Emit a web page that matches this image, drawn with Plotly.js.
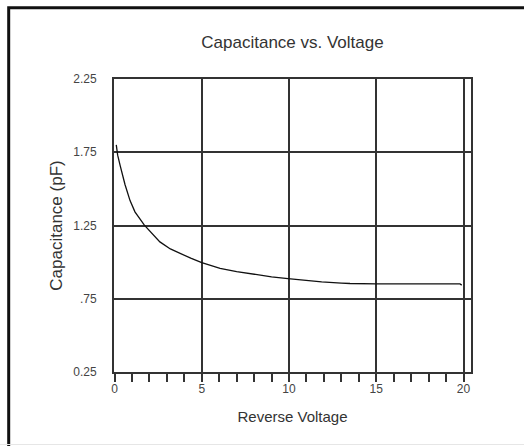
<!DOCTYPE html>
<html>
<head>
<meta charset="utf-8">
<script src="https://cdn.plot.ly/plotly-3.0.1.min.js"></script>
<style>
html,body{margin:0;padding:0;background:#fff;}
#chart{width:524px;height:446px;}
</style>
</head>
<body>
<div id="chart"></div>
<script>
// Data
var reverseVoltage = [0.1, 0.18, 0.32, 0.6, 0.89, 1.17, 1.71, 2.2, 2.6, 3.2, 3.75, 4.4, 5.0, 6.05, 7.0, 7.77, 9.0, 9.94, 11.0, 11.87, 13.0, 13.5, 15.0, 17.0, 19.0, 19.8, 19.9];
var capacitance   = [1.80, 1.73, 1.66, 1.53, 1.42, 1.343, 1.252, 1.185, 1.138, 1.09, 1.059, 1.025, 0.997, 0.957, 0.935, 0.92, 0.90, 0.888, 0.875, 0.865, 0.857, 0.854, 0.852, 0.851, 0.851, 0.851, 0.843];

var xTickVals = [0, 5, 10, 15, 20];
var xTickText = ["0", "5", "10", "15", "20"];
var yTickVals = [0.25, 0.75, 1.25, 1.75, 2.25];
var yTickText = ["0.25", ".75", "1.25", "1.75", "2.25"];

var chartTitle = "Capacitance vs. Voltage";
var xTitle = "Reverse Voltage";
var yTitle = "Capacitance (pF)";

var FONT = "'Liberation Sans', Arial, Helvetica, sans-serif";

var trace = {
  x: reverseVoltage,
  y: capacitance,
  type: "scatter",
  mode: "lines",
  line: {color: "#111", width: 1.3},
  hoverinfo: "skip"
};

var layout = {
  width: 524,
  height: 446,
  paper_bgcolor: "#fff",
  plot_bgcolor: "#fff",
  showlegend: false,
  margin: {l: 114, r: 53, t: 79, b: 74, pad: 0},
  font: {family: FONT, color: "#333"},
  title: {
    text: chartTitle,
    font: {family: FONT, size: 17, color: "#333"},
    x: 0.5, xref: "paper",
    y: 1 - 42/446, yref: "container", yanchor: "middle"
  },
  xaxis: {
    range: [-0.03, 20.43],
    tickvals: xTickVals,
    ticktext: xTickText,
    ticks: "outside",
    ticklen: 5,
    tickcolor: "rgba(0,0,0,0)",
    tickfont: {family: FONT, size: 12, color: "#444"},
    showgrid: true,
    gridcolor: "#333",
    gridwidth: 2,
    zeroline: false,
    showline: true,
    linecolor: "#333",
    linewidth: 2,
    mirror: true,
    minor: {dtick: 1, tick0: 0, ticks: "outside", ticklen: 8, tickcolor: "#333", tickwidth: 2, showgrid: false},
    title: {text: xTitle, font: {family: FONT, size: 15, color: "#333"}, standoff: 16},
    fixedrange: true
  },
  yaxis: {
    range: [0.25, 2.25],
    tickvals: yTickVals,
    ticktext: yTickText,
    ticks: "outside",
    ticklen: 13,
    tickcolor: "rgba(0,0,0,0)",
    tickfont: {family: FONT, size: 12, color: "#444"},
    showgrid: true,
    gridcolor: "#333",
    gridwidth: 2,
    zeroline: false,
    showline: true,
    linecolor: "#333",
    linewidth: 2,
    mirror: true,
    title: {text: yTitle, font: {family: FONT, size: 17, color: "#333"}, standoff: 6},
    fixedrange: true
  },
  shapes: [
    {type: "rect", xref: "paper", yref: "paper",
     x0: (8.7 - 114)/357, x1: 3, y0: -2, y1: (372 - 7.7)/293,
     line: {color: "#111", width: 3}, fillcolor: "rgba(0,0,0,0)", layer: "below"},
    {type: "line", xref: "paper", yref: "paper",
     x0: -1, x1: 2, y0: (372 - 444.5)/293, y1: (372 - 444.5)/293,
     line: {color: "#e6e6e6", width: 1}, layer: "below"}
  ]
};

Plotly.newPlot("chart", [trace], layout, {staticPlot: true, displayModeBar: false});
</script>
</body>
</html>
